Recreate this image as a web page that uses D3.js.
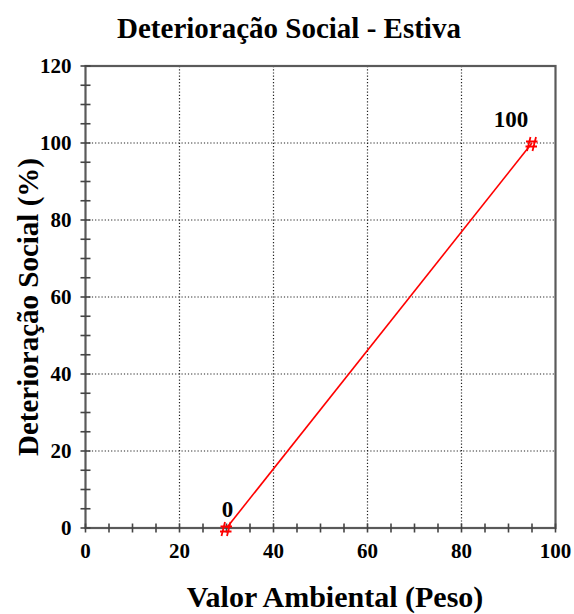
<!DOCTYPE html>
<html>
<head>
<meta charset="utf-8">
<script src="https://cdn.jsdelivr.net/npm/d3@7"></script>
<style>
  html, body { margin: 0; padding: 0; background: #fff; }
  svg text { font-family: "Liberation Serif", "Times New Roman", serif; font-weight: bold; }
</style>
</head>
<body>
<svg id="chart" width="574" height="614"></svg>
<script>
// Data: environmental value (weight) vs. social deterioration (%)
const xValues = [30, 95];
const yValues = [0, 100];
const pointLabels = ["0", "100"];
const xTicks = [0, 20, 40, 60, 80, 100];
const yTicks = [0, 20, 40, 60, 80, 100, 120];
const xMinorTicks = d3.range(0, 101, 5);
const yMinorTicks = d3.range(0, 121, 5);

const svg = d3.select("#chart");
const plotLeft = 85.5, plotRight = 555.5, plotTop = 66, plotBottom = 528;

const x = d3.scaleLinear().domain([0, 100]).range([plotLeft, plotRight]);
const y = d3.scaleLinear().domain([0, 120]).range([plotBottom, plotTop]);

// Dotted grid at major ticks
const grid = svg.append("g").attr("stroke", "#222").attr("stroke-width", 1.2)
  .attr("stroke-dasharray", "1.2,2");
grid.selectAll(".gx").data(xTicks.filter(d => d > 0 && d < 100)).join("line")
  .attr("x1", d => x(d)).attr("x2", d => x(d)).attr("y1", plotTop).attr("y2", plotBottom);
grid.selectAll(".gy").data(yTicks.filter(d => d > 0 && d < 120)).join("line")
  .attr("y1", d => y(d)).attr("y2", d => y(d)).attr("x1", plotLeft).attr("x2", plotRight);

// Frame
svg.append("rect").attr("x", plotLeft).attr("y", plotTop)
  .attr("width", plotRight - plotLeft).attr("height", plotBottom - plotTop)
  .attr("fill", "none").attr("stroke", "#5a5a5a").attr("stroke-width", 2.2);

// Bottom axis: crossing minor ticks, labels at majors
const xAxis = svg.append("g");
xAxis.selectAll("line").data(xMinorTicks).join("line")
  .attr("x1", d => x(d)).attr("x2", d => x(d))
  .attr("y1", plotBottom - 4.5).attr("y2", plotBottom + 4.5)
  .attr("stroke", "#444").attr("stroke-width", 1.6);
xAxis.selectAll("text").data(xTicks).join("text")
  .attr("x", d => x(d)).attr("y", plotBottom + 30)
  .attr("text-anchor", "middle").attr("font-size", 21).text(d => d);

// Left axis
const yAxis = svg.append("g");
yAxis.selectAll("line").data(yMinorTicks).join("line")
  .attr("y1", d => y(d)).attr("y2", d => y(d))
  .attr("x1", plotLeft - 5).attr("x2", plotLeft + 5)
  .attr("stroke", "#444").attr("stroke-width", 1.6);
yAxis.selectAll("text").data(yTicks).join("text")
  .attr("x", plotLeft - 14).attr("y", d => y(d) + 7)
  .attr("text-anchor", "end").attr("font-size", 21).text(d => d);

// Titles
svg.append("text").attr("x", 289).attr("y", 38).attr("text-anchor", "middle")
  .attr("font-size", 29).text("Deterioração Social - Estiva");
svg.append("text").attr("x", 335).attr("y", 607).attr("text-anchor", "middle")
  .attr("font-size", 30).text("Valor Ambiental (Peso)");
svg.append("text").attr("transform", "translate(38,307) rotate(-90)")
  .attr("text-anchor", "middle").attr("font-size", 29).text("Deterioração Social (%)");

// Series line
const pts = xValues.map((v, i) => [v, yValues[i], pointLabels[i]]);
svg.append("path").datum(pts)
  .attr("d", d3.line().x(d => x(d[0])).y(d => y(d[1])))
  .attr("fill", "none").attr("stroke", "#ff0000").attr("stroke-width", 1.6);

// Hash-shaped point marker
const hashSymbol = {
  draw(ctx) {
    // two slanted uprights
    ctx.moveTo(-4.5, 7); ctx.lineTo(-1, -7);
    ctx.moveTo(1, 7); ctx.lineTo(4.5, -7);
    // two crossbars
    ctx.moveTo(-5.5, -2.5); ctx.lineTo(6, -2.5);
    ctx.moveTo(-6, 2.5); ctx.lineTo(5.5, 2.5);
  }
};
svg.selectAll(".mk").data(pts).join("path")
  .attr("transform", d => `translate(${x(d[0]) - 0.5},${y(d[1]) + 1})`)
  .attr("d", d3.symbol(hashSymbol))
  .attr("fill", "none").attr("stroke", "#ff0000").attr("stroke-width", 1.8);

// Point labels
svg.selectAll(".pl").data(pts).join("text")
  .attr("x", (d, i) => x(d[0]) + (i === 0 ? 1 : -21))
  .attr("y", (d, i) => y(d[1]) - (i === 0 ? 11 : 16))
  .attr("text-anchor", "middle").attr("font-size", 23).text(d => d[2]);
</script>
</body>
</html>
